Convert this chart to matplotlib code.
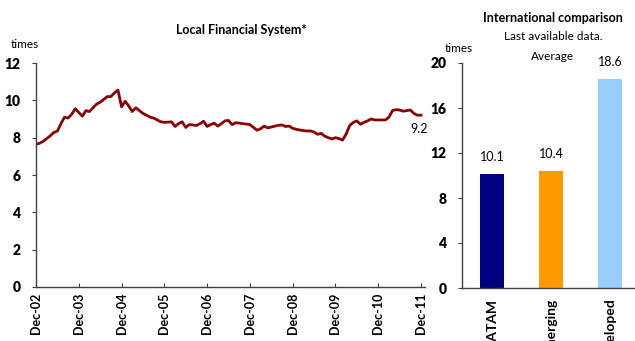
import matplotlib
matplotlib.use("Agg")
import matplotlib.pyplot as plt
import numpy as np

plt.rcParams['font.family'] = ['Lato', 'DejaVu Sans']

# Local financial system, monthly Dec-02 .. Dec-11 (times)
local_values = [
    7.65, 7.70, 7.80, 7.95, 8.10, 8.28, 8.35, 8.75, 9.10, 9.05, 9.25, 9.55,
    9.35, 9.15, 9.45, 9.40, 9.60, 9.80, 9.90, 10.05, 10.20, 10.20, 10.40, 10.55,
    9.65, 9.95, 9.70, 9.40, 9.60, 9.45, 9.30, 9.20, 9.10, 9.05, 8.95, 8.85,
    8.82, 8.83, 8.85, 8.60, 8.75, 8.85, 8.55, 8.70, 8.68, 8.65, 8.75, 8.88,
    8.60, 8.70, 8.78, 8.62, 8.75, 8.90, 8.92, 8.70, 8.80, 8.78, 8.75, 8.73,
    8.70, 8.55, 8.40, 8.48, 8.62, 8.52, 8.57, 8.62, 8.66, 8.68, 8.60, 8.62,
    8.50, 8.45, 8.41, 8.38, 8.36, 8.36, 8.30, 8.18, 8.23, 8.08, 8.00, 7.93,
    8.00, 7.95, 7.87, 8.20, 8.65, 8.82, 8.90, 8.72, 8.82, 8.90, 9.00, 8.95,
    8.95, 8.95, 8.95, 9.10, 9.45, 9.50, 9.48, 9.42, 9.45, 9.48, 9.30, 9.20,
    9.21,
]
year_labels = ['Dec-02', 'Dec-03', 'Dec-04', 'Dec-05', 'Dec-06',
               'Dec-07', 'Dec-08', 'Dec-09', 'Dec-10', 'Dec-11']
last_label = '9.2'

# International comparison
regions = ['LATAM', 'Emerging', 'Developed']
region_values = [10.1, 10.4, 18.6]
region_colors = ['#000080', '#FF9900', '#99CCFF']

spine_col = '#404040'
W, H = 635, 341
fig = plt.figure(figsize=(W / 100, H / 100), dpi=100)

def box(x0, y0, x1, y1):
    return [x0 / W, 1 - y1 / H, (x1 - x0) / W, (y1 - y0) / H]

# ---- left panel
ax = fig.add_axes(box(36, 63, 424.6, 287))
months = np.arange(len(local_values))
ax.plot(months, local_values, color='#8B0000', lw=2)
ax.set_xlim(0, 109)
ax.set_ylim(0, 12)
ax.set_yticks(range(0, 13, 2))
ax.set_xticks(np.arange(len(year_labels)) * 12)
ax.set_xticklabels(year_labels, rotation=90, fontweight='bold', fontsize=9)
ax.text(len(local_values) - 1.5, local_values[-1] - 0.45, last_label,
        ha='center', va='top', fontsize=9)
ax.tick_params(axis='x', direction='in', length=3, color=spine_col, pad=4)
ax.tick_params(axis='y', direction='out', length=3, color=spine_col, labelsize=10, pad=8)
for lab in ax.get_yticklabels():
    lab.set_fontweight('heavy')
for s in ['top', 'right']:
    ax.spines[s].set_visible(False)
for s in ['left', 'bottom']:
    ax.spines[s].set_color(spine_col)
    ax.spines[s].set_linewidth(1)
fig.text(241 / W, 1 - 30 / H, 'Local Financial System*', ha='center', va='center',
         fontweight='bold', fontsize=9)
fig.text(25 / W, 1 - 45 / H, 'times', ha='center', va='center', fontsize=8.5)

# ---- right panel
bx = fig.add_axes(box(462, 63, 635, 288))
pos = np.arange(len(regions))
bx.bar(pos, region_values, width=0.41, color=region_colors)
for p, v in zip(pos, region_values):
    bx.text(p, v + 1.0, f'{v:.1f}', ha='center', va='bottom', fontsize=9)
bx.set_xlim(-0.508, 2.42)
bx.set_ylim(0, 20)
bx.set_yticks(range(0, 21, 4))
bx.set_xticks(pos)
bx.set_xticklabels(regions, rotation=90, fontweight='bold', fontsize=10)
bx.tick_params(axis='x', length=0, pad=7)
bx.tick_params(axis='y', direction='out', length=3, color=spine_col, labelsize=10, pad=8)
for lab in bx.get_yticklabels():
    lab.set_fontweight('heavy')
for s in ['top', 'right']:
    bx.spines[s].set_visible(False)
for s in ['left', 'bottom']:
    bx.spines[s].set_color(spine_col)
    bx.spines[s].set_linewidth(1)
fig.text(553 / W, 1 - 18 / H, 'International comparison', ha='center', va='center',
         fontweight='bold', fontsize=9)
fig.text(553 / W, 1 - 37 / H, 'Last available data.', ha='center', va='center', fontsize=8.5)
fig.text(553 / W, 1 - 56 / H, 'Average', ha='center', va='center', fontsize=8.5)
fig.text(459 / W, 1 - 49 / H, 'times', ha='center', va='center', fontsize=8.5)

fig.savefig('out.png', dpi=100)
